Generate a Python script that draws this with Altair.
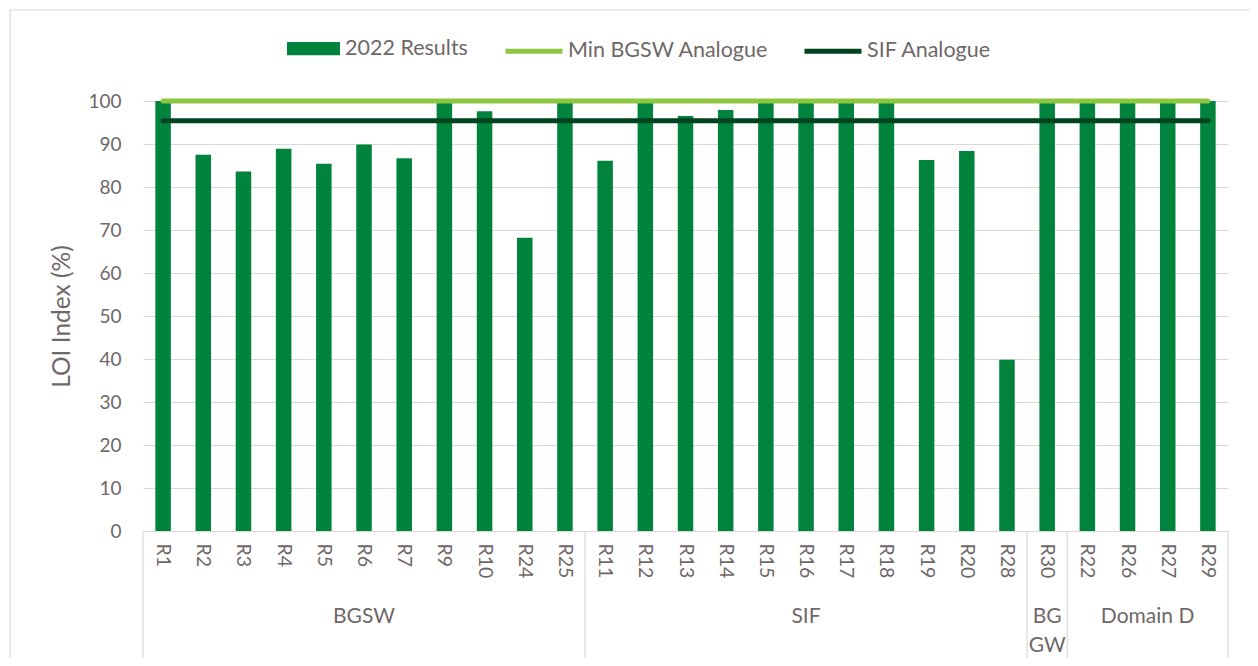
import altair as alt
import pandas as pd

categories = ["R1", "R2", "R3", "R4", "R5", "R6", "R7", "R9", "R10", "R24", "R25",
              "R11", "R12", "R13", "R14", "R15", "R16", "R17", "R18", "R19", "R20", "R28",
              "R30",
              "R22", "R26", "R27", "R29"]
results_2022 = [100, 87.5, 83.6, 88.9, 85.4, 89.9, 86.7, 100, 97.6, 68.2, 100,
                86.1, 100, 96.5, 97.9, 100, 100, 100, 100, 86.3, 88.4, 39.8,
                100,
                100, 100, 100, 100]
min_bgsw = [100, 100, 100, 100, 100, 100, 100, 100, 100, 100, 100,
            100, 100, 100, 100, 100, 100, 100, 100, 100, 100, 100,
            100,
            100, 100, 100, 100]
sif_analogue = [95.4, 95.4, 95.4, 95.4, 95.4, 95.4, 95.4, 95.4, 95.4, 95.4, 95.4,
                95.4, 95.4, 95.4, 95.4, 95.4, 95.4, 95.4, 95.4, 95.4, 95.4, 95.4,
                95.4,
                95.4, 95.4, 95.4, 95.4]
group_names = ["BGSW", "SIF", "BG\nGW", "Domain D"]
group_sizes = [11, 11, 1, 4]
y_ticks = [0, 10, 20, 30, 40, 50, 60, 70, 80, 90, 100]

TEXT = "#6f6868"
GRID = "#d9d9d9"
BAR = "#00843D"
LIGHT = "#8DC63F"
DARK = "#00441F"
N = len(categories)

bar_df = pd.DataFrame({"cat": categories, "value": results_2022, "series": "2022 Results"})
line_df = pd.concat([
    pd.DataFrame({"cat": categories, "value": min_bgsw, "series": "Min BGSW Analogue"}),
    pd.DataFrame({"cat": categories, "value": sif_analogue, "series": "SIF Analogue"}),
])

starts = []
acc = 0
for s in group_sizes:
    starts.append(acc)
    acc += s
grp_df = pd.DataFrame({"name": group_names, "center": [a + s / 2 for a, s in zip(starts, group_sizes)]})
sep_df = pd.DataFrame({"pos": starts + [acc]})

x_enc = alt.X("cat:N", sort=categories,
              scale=alt.Scale(paddingInner=0.614, paddingOuter=0.307),
              axis=alt.Axis(title=None, labelAngle=90, labelFontSize=19.5, ticks=False,
                            domainColor=GRID, labelPadding=12, labelColor=TEXT, grid=False))
y_enc = alt.Y("value:Q", scale=alt.Scale(domain=[0, 100], nice=False),
              axis=alt.Axis(values=y_ticks, domain=False, ticks=False, gridColor=GRID,
                            labelFontSize=19, labelPadding=22, labelColor=TEXT,
                            title="LOI Index (%)", titleFontSize=24.5, titleFontWeight="normal",
                            titleColor=TEXT, titlePadding=13))

bars = alt.Chart(bar_df).mark_bar().encode(
    x=x_enc, y=y_enc,
    color=alt.Color("series:N",
                    scale=alt.Scale(domain=["2022 Results"], range=[BAR]),
                    legend=alt.Legend(orient="none", legendX=144, legendY=-79, title=None,
                                      symbolType="M-1,-0.25H1V0.25H-1Z", symbolSize=2809,
                                      symbolStrokeWidth=0, labelFontSize=21.5, labelColor=TEXT,
                                      labelOffset=5, labelLimit=500)),
)

lines = alt.Chart(line_df).mark_line(strokeWidth=5, strokeCap="round").encode(
    x=x_enc, y=y_enc,
    color=alt.Color("series:N",
                    scale=alt.Scale(domain=["Min BGSW Analogue", "SIF Analogue"], range=[LIGHT, DARK]),
                    legend=alt.Legend(orient="none", legendX=360, legendY=-81, title=None,
                                      direction="horizontal", symbolType="stroke", symbolSize=3249,
                                      symbolStrokeWidth=5, labelFontSize=21.5, labelColor=TEXT,
                                      labelOffset=3, columnPadding=25, labelLimit=500)),
    detail="series:N",
)

main = alt.layer(bars, lines).resolve_scale(color="independent")

qx = alt.Scale(domain=[0, N])
grp_text = alt.Chart(grp_df).mark_text(fontSize=21, color=TEXT, lineBreak="\n", lineHeight=29,
                                       baseline="middle", align="center").encode(
    x=alt.X("center:Q", scale=qx, axis=None),
    y=alt.value(516),
    text="name:N",
)
seps = alt.Chart(sep_df).mark_rule(color=GRID, strokeWidth=1.2).encode(
    x=alt.X("pos:Q", scale=qx, axis=None),
    y=alt.value(430),
    y2=alt.value(560),
)
frame = alt.Chart(pd.DataFrame({"k": [0]})).mark_rect(filled=False, stroke=GRID, strokeWidth=1.2).encode(
    x=alt.value(-133), x2=alt.value(1114), y=alt.value(-91), y2=alt.value(570),
)
annot = alt.layer(grp_text, seps, frame)

chart = alt.layer(main, annot).resolve_scale(x="independent").properties(
    width=1085, height=430,
    autosize=alt.AutoSizeParams(type="none"),
    padding={"left": 135, "top": 93, "right": 22, "bottom": 127},
).configure(font="Lato").configure_view(stroke=None)

chart.save("out.html", embed_options={"renderer": "svg", "actions": False})
